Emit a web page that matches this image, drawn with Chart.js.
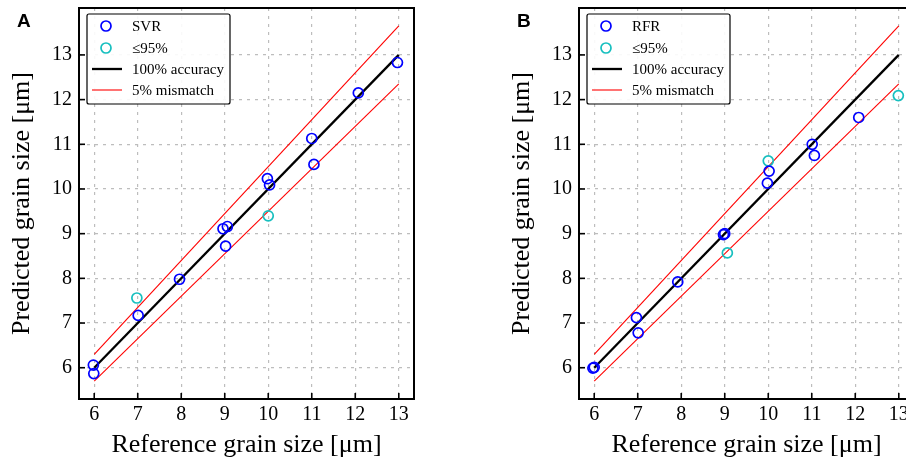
<!DOCTYPE html>
<html>
<head>
<meta charset="utf-8">
<script src="https://cdn.jsdelivr.net/npm/chart.js@4/dist/chart.umd.min.js"></script>
<style>
  html, body { margin: 0; padding: 0; background: #fff; overflow: hidden; }
  body { width: 906px; height: 461px; position: relative; }
  canvas { position: absolute; top: 0; }
</style>
</head>
<body>
<canvas id="svr" width="453" height="461" style="left:0px"></canvas>
<canvas id="rfr" width="453" height="461" style="left:500px"></canvas>
<script>
// ticks shared by both panels
const xTicks = [6, 7, 8, 9, 10, 11, 12, 13];
const yTicks = [6, 7, 8, 9, 10, 11, 12, 13];

// reference lines
const lineRef = [6, 13];
const accPred = [6, 13];
const upperPred = [6.3, 13.65];
const lowerPred = [5.7, 12.35];

// panel A - SVR
const svrRef  = [5.98, 5.99, 7.01, 7.96, 8.96, 9.06, 9.02, 9.98, 10.03, 11.0, 11.05, 12.07, 12.97];
const svrPred = [6.06, 5.87, 7.17, 7.98, 9.11, 9.16, 8.72, 10.23, 10.09, 11.13, 10.55, 12.15, 12.83];
const svrLowRef  = [6.98, 10.0];
const svrLowPred = [7.56, 9.40];

// panel B - RFR
const rfrRef  = [5.97, 6.0, 6.97, 7.01, 7.92, 8.97, 9.0, 9.98, 10.02, 11.01, 11.06, 12.08];
const rfrPred = [5.99, 6.01, 7.12, 6.78, 7.92, 8.98, 9.0, 10.13, 10.40, 11.0, 10.75, 11.60];
const rfrLowRef  = [9.06, 10.0, 12.99];
const rfrLowPred = [8.57, 10.63, 12.09];

const pts = (xs, ys) => xs.map((x, i) => ({x: x, y: ys[i]}));

const SERIF = "'Liberation Serif', 'DejaVu Serif', serif";

const framePlugin = {
  id: 'frame',
  afterDatasetsDraw(chart) {
    const {ctx, chartArea: a, scales} = chart;
    ctx.save();
    ctx.strokeStyle = '#000';
    ctx.lineWidth = 1.6;
    // inward ticks on left and bottom
    xTicks.forEach(v => {
      const px = scales.x.getPixelForValue(v);
      ctx.beginPath(); ctx.moveTo(px, a.bottom); ctx.lineTo(px, a.bottom - 6); ctx.stroke();
    });
    yTicks.forEach(v => {
      const py = scales.y.getPixelForValue(v);
      ctx.beginPath(); ctx.moveTo(a.left, py); ctx.lineTo(a.left + 6, py); ctx.stroke();
    });
    ctx.lineWidth = 2;
    ctx.strokeRect(a.left, a.top, a.right - a.left, a.bottom - a.top);
    ctx.restore();
  },
  afterDraw(chart) {
    const {ctx} = chart;
    const o = chart.options.plugins.frame;
    ctx.save();
    // panel letter
    ctx.fillStyle = '#000';
    ctx.font = "bold 19px 'Liberation Sans', Arial, sans-serif";
    ctx.textBaseline = 'middle';
    ctx.fillText(o.letter, 17, 22);
    // legend box
    const bx = 87, by = 14, bw = 143, bh = 90;
    ctx.beginPath();
    ctx.roundRect(bx, by, bw, bh, 2);
    ctx.fillStyle = 'rgba(255,255,255,0.9)';
    ctx.fill();
    ctx.strokeStyle = '#000';
    ctx.lineWidth = 1.2;
    ctx.stroke();
    const rows = [26, 48, 69, 90];
    ctx.font = '15px ' + SERIF;
    [0, 1, 2, 3].forEach((di, r) => {
      const ds = chart.data.datasets[di];
      const y = rows[r];
      ctx.strokeStyle = ds.borderColor;
      ctx.lineWidth = ds.borderWidth;
      ctx.beginPath();
      if (ds.showLine) { ctx.moveTo(92, y); ctx.lineTo(122, y); }
      else { ctx.arc(106, y, ds.pointRadius, 0, Math.PI * 2); }
      ctx.stroke();
      ctx.fillStyle = '#000';
      ctx.fillText(ds.label, 132, y + 1);
    });
    ctx.restore();
  }
};

function makePanel(id, letter, name, ref, pred, lowRef, lowPred) {
  return new Chart(document.getElementById(id), {
    type: 'scatter',
    data: {
      datasets: [
        { label: name, data: pts(ref, pred), borderColor: '#0000ff', backgroundColor: 'rgba(0,0,0,0)',
          borderWidth: 1.7, pointRadius: 5, showLine: false, order: 0 },
        { label: '≤95%', data: pts(lowRef, lowPred), borderColor: '#17bfbf', backgroundColor: 'rgba(0,0,0,0)',
          borderWidth: 1.7, pointRadius: 5, showLine: false, order: 0 },
        { label: '100% accuracy', data: pts(lineRef, accPred), borderColor: '#000', borderWidth: 2.3,
          showLine: true, pointRadius: 0, order: 1 },
        { label: '5% mismatch', data: pts(lineRef, upperPred), borderColor: '#ff0000', borderWidth: 1.1,
          showLine: true, pointRadius: 0, order: 1 },
        { label: '5% mismatch lower', data: pts(lineRef, lowerPred), borderColor: '#ff0000', borderWidth: 1.1,
          showLine: true, pointRadius: 0, order: 1 }
      ]
    },
    options: {
      responsive: false,
      animation: false,
      layout: { padding: { left: 0, top: 8, right: 39, bottom: 0 } },
      plugins: { legend: { display: false }, tooltip: { enabled: false }, frame: { letter: letter } },
      scales: {
        x: {
          type: 'linear', min: 5.65, max: 13.35,
          afterBuildTicks: s => { s.ticks = xTicks.map(v => ({value: v})); },
          afterFit: s => { s.height = 62; s.paddingLeft = 0; s.paddingRight = 0; },
          grid: { color: '#bdbdbd', lineWidth: 1.2, drawTicks: false },
          border: { display: false, dash: [3, 5] },
          ticks: { color: '#000', padding: 4, font: { family: SERIF, size: 20 } },
          title: { display: true, text: 'Reference grain size [μm]', color: '#000',
                   padding: { top: 0, bottom: 0 }, font: { family: SERIF, size: 26 } }
        },
        y: {
          type: 'linear', min: 5.3, max: 14.05,
          afterBuildTicks: s => { s.ticks = yTicks.map(v => ({value: v})); },
          afterFit: s => { s.width = 79; s.paddingTop = 0; s.paddingBottom = 0; },
          grid: { color: '#bdbdbd', lineWidth: 1.2, drawTicks: false },
          border: { display: false, dash: [3, 5] },
          ticks: { color: '#000', padding: 7, font: { family: SERIF, size: 20 } },
          title: { display: true, text: 'Predicted grain size [μm]', color: '#000',
                   padding: { top: 7, bottom: 0 }, font: { family: SERIF, size: 26 } }
        }
      }
    },
    plugins: [framePlugin]
  });
}

makePanel('svr', 'A', 'SVR', svrRef, svrPred, svrLowRef, svrLowPred);
makePanel('rfr', 'B', 'RFR', rfrRef, rfrPred, rfrLowRef, rfrLowPred);
</script>
</body>
</html>
